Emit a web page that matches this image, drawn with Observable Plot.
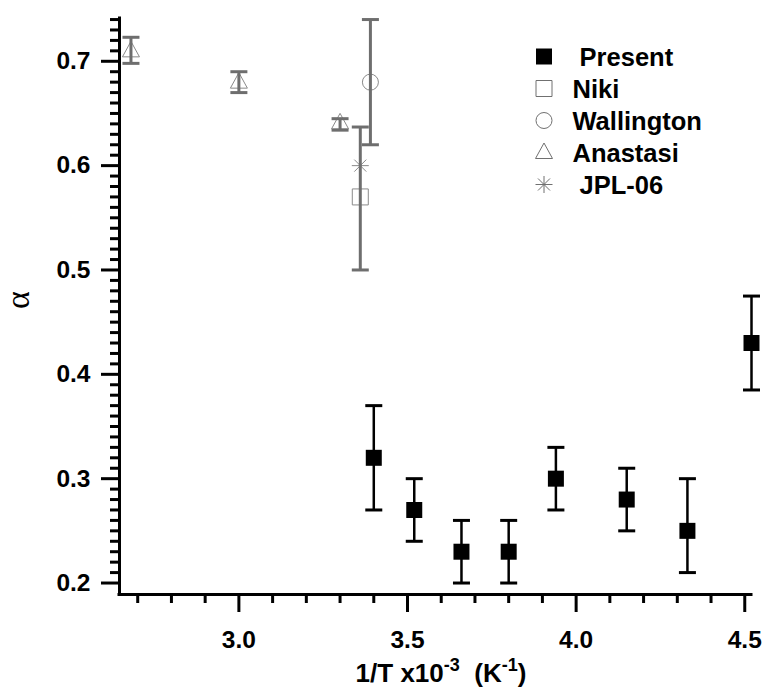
<!DOCTYPE html>
<html><head><meta charset="utf-8">
<script src="https://cdn.jsdelivr.net/npm/d3@7"></script>
<script src="https://cdn.jsdelivr.net/npm/@observablehq/plot@0.6"></script>
<style>body{margin:0;background:#fff;} svg{display:block}</style>
</head><body><div id="chart"></div>
<script>
// ---- data ----
const presentX  = [3.40, 3.52, 3.66, 3.80, 3.94, 4.15, 4.33, 4.52];
const presentY  = [0.32, 0.27, 0.23, 0.23, 0.30, 0.28, 0.25, 0.43];
const presentLo = [0.27, 0.24, 0.20, 0.20, 0.27, 0.25, 0.21, 0.385];
const presentHi = [0.37, 0.30, 0.26, 0.26, 0.33, 0.31, 0.30, 0.475];

const anastasiX  = [2.68, 3.00, 3.30];
const anastasiY  = [0.71, 0.68, 0.641];
const anastasiLo = [0.698, 0.670, 0.634];
const anastasiHi = [0.723, 0.690, 0.645];

const wallingtonX  = [3.39];
const wallingtonY  = [0.68];
const wallingtonLo = [0.62];
const wallingtonHi = [0.74];

const nikiX  = [3.36];
const nikiY  = [0.57];
const nikiLo = [0.50];
const nikiHi = [0.637];

const jplX = [3.36];
const jplY = [0.60];

const xMajorTicks = [3.0, 3.5, 4.0, 4.5];
const xMinorTicks = [2.7, 2.8, 2.9, 3.1, 3.2, 3.3, 3.4, 3.6, 3.7, 3.8, 3.9, 4.1, 4.2, 4.3, 4.4];
const yMajorTicks = [0.2, 0.3, 0.4, 0.5, 0.6, 0.7];
const yMinorTicks = [0.21,0.22,0.23,0.24,0.25,0.26,0.27,0.28,0.29,
                     0.31,0.32,0.33,0.34,0.35,0.36,0.37,0.38,0.39,
                     0.41,0.42,0.43,0.44,0.45,0.46,0.47,0.48,0.49,
                     0.51,0.52,0.53,0.54,0.55,0.56,0.57,0.58,0.59,
                     0.61,0.62,0.63,0.64,0.65,0.66,0.67,0.68,0.69,
                     0.71,0.72,0.73,0.74];
const xDomain = [2.646, 4.52];
const yDomain = [0.189, 0.741];
const legendLabels = [" Present", "Niki", "Wallington", "Anastasi", " JPL-06"];

// ---- tables ----
const table = (xs, ys, lo, hi) => xs.map((x, i) => ({x, y: ys[i], lo: lo ? lo[i] : null, hi: hi ? hi[i] : null}));
const present = table(presentX, presentY, presentLo, presentHi);
const anastasi = table(anastasiX, anastasiY, anastasiLo, anastasiHi);
const wallington = table(wallingtonX, wallingtonY, wallingtonLo, wallingtonHi);
const niki = table(nikiX, nikiY, nikiLo, nikiHi);
const jpl = table(jplX, jplY);
const grayBars = [...anastasi, ...wallington, ...niki];

// ---- symbols ----
const capSym = {draw(c) { c.moveTo(-8.5, 0); c.lineTo(8.5, 0); }};
const squareSym = {draw(c) { c.moveTo(-8, -8); c.lineTo(8, -8); c.lineTo(8, 8); c.lineTo(-8, 8); c.closePath(); }};
const triSym = {draw(c) { c.moveTo(0, -9.5); c.lineTo(8.5, 6); c.lineTo(-8.5, 6); c.closePath(); }};
const circSym = {draw(c) { c.moveTo(8, 0); c.arc(0, 0, 8, 0, 2 * Math.PI); }};
const starSym = {draw(c) {
  const r = 8.5, d = r * 0.7071;
  c.moveTo(0, -r); c.lineTo(0, r);
  c.moveTo(-r, 0); c.lineTo(r, 0);
  c.moveTo(-d, -d); c.lineTo(d, d);
  c.moveTo(-d, d); c.lineTo(d, -d);
}};

const barGray = "#6e6e6e";
const markGray = "#8a8a8a";
const font = "'Liberation Sans', Arial, sans-serif";

const chart = Plot.plot({
  width: 766, height: 688,
  marginLeft: 119, marginRight: 15, marginTop: 18, marginBottom: 94,
  x: {domain: xDomain},
  y: {domain: yDomain},
  style: {fontFamily: font, background: "white", color: "black"},
  marks: [
    // axes
    Plot.axisY({ticks: yMinorTicks, tickSize: 9, strokeWidth: 3, tickFormat: () => "", label: null}),
    Plot.axisY({ticks: yMajorTicks, tickSize: 18, strokeWidth: 3, tickPadding: 11, fontSize: 24.5, fontWeight: "bold", tickFormat: d3.format(".1f"), label: null}),
    Plot.axisX({ticks: xMinorTicks, tickSize: 9, strokeWidth: 3, tickFormat: () => "", label: null}),
    Plot.axisX({ticks: xMajorTicks, tickSize: 18, strokeWidth: 3, tickPadding: 18, fontSize: 24.5, fontWeight: "bold", tickFormat: d3.format(".1f"), label: null}),
    Plot.ruleX([xDomain[0]], {strokeWidth: 3, strokeLinecap: "square"}),
    Plot.ruleY([yDomain[0]], {strokeWidth: 3, strokeLinecap: "square"}),
    // gray literature markers
    Plot.dot(anastasi, {x: "x", y: "y", symbol: triSym, fill: "none", stroke: markGray, strokeWidth: 1}),
    Plot.dot(wallington, {x: "x", y: "y", symbol: circSym, fill: "none", stroke: markGray, strokeWidth: 1}),
    Plot.dot(niki, {x: "x", y: "y", symbol: squareSym, fill: "none", stroke: markGray, strokeWidth: 1}),
    Plot.dot(jpl, {x: "x", y: "y", symbol: starSym, fill: "none", stroke: markGray, strokeWidth: 1}),
    // gray error bars
    Plot.ruleX(grayBars, {x: "x", y1: "lo", y2: "hi", stroke: barGray, strokeWidth: 3}),
    Plot.dot(grayBars, {x: "x", y: "lo", symbol: capSym, fill: "none", stroke: barGray, strokeWidth: 3}),
    Plot.dot(grayBars, {x: "x", y: "hi", symbol: capSym, fill: "none", stroke: barGray, strokeWidth: 3}),
    // present work
    Plot.ruleX(present, {x: "x", y1: "lo", y2: "hi", stroke: "black", strokeWidth: 2.5}),
    Plot.dot(present, {x: "x", y: "lo", symbol: capSym, fill: "none", stroke: "black", strokeWidth: 3}),
    Plot.dot(present, {x: "x", y: "hi", symbol: capSym, fill: "none", stroke: "black", strokeWidth: 3}),
    Plot.dot(present, {x: "x", y: "y", symbol: squareSym, fill: "black", stroke: "none"})
  ]
});
document.getElementById("chart").appendChild(chart);

// ---- legend, axis titles ----
const svg = d3.select(chart);
const legendSyms = [
  {sym: squareSym, fill: "black", stroke: "none"},
  {sym: squareSym, fill: "none", stroke: "#707070"},
  {sym: circSym, fill: "none", stroke: "#707070"},
  {sym: triSym, fill: "none", stroke: "#707070"},
  {sym: starSym, fill: "none", stroke: "#707070"}
];
const lg = svg.append("g").attr("text-anchor", "start");
legendLabels.forEach((lab, i) => {
  const cy = 56.5 + i * 32;
  const s = legendSyms[i];
  lg.append("path").attr("d", d3.symbol().type(s.sym)()).attr("transform", `translate(544,${cy})`)
    .attr("fill", s.fill).attr("stroke", s.stroke).attr("stroke-width", 1);
  lg.append("text").attr("x", 572.5).attr("y", cy + 9).attr("text-anchor", "start").attr("font-family", font)
    .attr("font-size", 25.5).attr("font-weight", "bold").style("white-space", "pre").attr("fill", "black").text(lab);
});

const xl = svg.append("text").attr("x", 441).attr("y", 682).attr("text-anchor", "middle")
  .attr("font-family", font).attr("font-size", 26).attr("font-weight", "bold").attr("fill", "black")
  .style("white-space", "pre");
xl.append("tspan").text("1/T x10");
xl.append("tspan").attr("font-size", 18).attr("dy", -11).text("-3");
xl.append("tspan").attr("dy", 11).text("  (K");
xl.append("tspan").attr("font-size", 18).attr("dy", -11).text("-1");
xl.append("tspan").attr("dy", 11).text(")");

svg.append("text").attr("transform", "translate(21,300) rotate(-90)").attr("text-anchor", "middle")
  .attr("dominant-baseline", "middle")
  .attr("font-family", "'Liberation Serif', 'Times New Roman', serif").attr("font-size", 34).attr("fill", "black").text("α");
</script>
</body></html>
